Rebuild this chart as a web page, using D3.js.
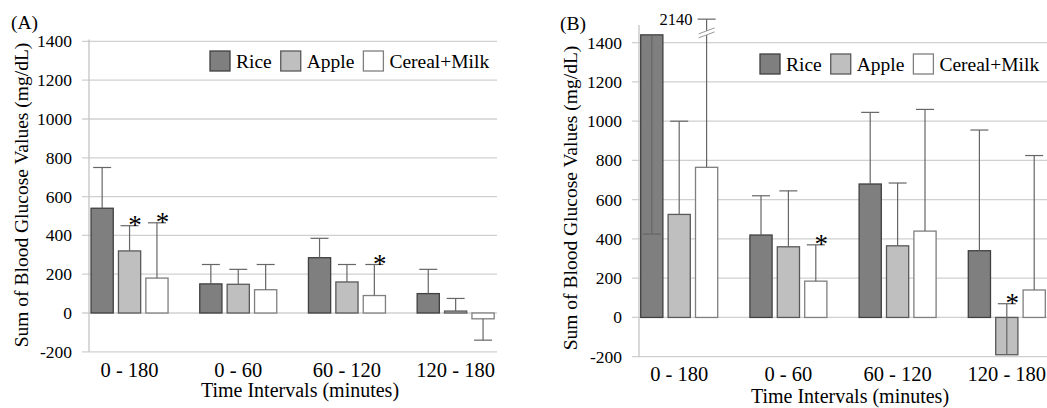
<!DOCTYPE html>
<html>
<head>
<meta charset="utf-8">
<script src="https://cdn.jsdelivr.net/npm/d3@7"></script>
<style>
    body { margin: 0; background: #fff; }
    text { font-family: "Liberation Serif", "Times New Roman", serif; fill: #000; }
</style>
</head>
<body>
<div id="chart"></div>
<script>

// data
const categories = ["0 - 180", "0 - 60", "60 - 120", "120 - 180"];
const series = ["Rice", "Apple", "Cereal+Milk"];
const yTicks = [-200, 0, 200, 400, 600, 800, 1000, 1200, 1400];

// panel A: means and error bar ends
const riceA = [540, 150, 285, 100];
const appleA = [320, 148, 160, 10];
const cerealA = [180, 120, 90, -30];
const riceErrA = [750, 250, 385, 225];
const appleErrA = [450, 225, 250, 75];
const cerealErrA = [465, 250, 250, -140];
const starsA = [["Apple", "0 - 180"], ["Cereal+Milk", "0 - 180"], ["Cereal+Milk", "60 - 120"]];

// panel B
const riceB = [1440, 420, 680, 340];
const appleB = [525, 360, 365, -190];
const cerealB = [765, 185, 440, 140];
const riceErrB = [425, 620, 1045, 955];
const appleErrB = [1000, 645, 685, 70];
const cerealErrB = [2140, 370, 1060, 825];
const starsB = [["Cereal+Milk", "0 - 60"], ["Apple", "120 - 180"]];

const fills = {"Rice": "#7f7f7f", "Apple": "#bfbfbf", "Cereal+Milk": "#ffffff"};
const strokes = {"Rice": "#404040", "Apple": "#595959", "Cereal+Milk": "#7f7f7f"};

const svg = d3.select("#chart")
    .append("svg")
    .attr("width", 1047)
    .attr("height", 408);

function drawPanel(p) {

    let g = svg.append("g");

    let x0 = d3.scaleBand()
        .domain(categories)
        .range(p.band);

    let x1 = d3.scaleBand()
        .domain(series)
        .range([-38.5, 38.5])
        .paddingInner(0.19);

    let y = d3.scaleLinear()
        .domain([-200, 1400])
        .range(p.yRange);

    //gridlines + tick marks
    g.selectAll(".grid")
        .data(yTicks)
        .join("line")
        .attr("x1", p.axisX - 7)
        .attr("x2", p.right)
        .attr("y1", d => y(d))
        .attr("y2", d => y(d))
        .attr("stroke", "#d0d0d0")
        .attr("stroke-width", 1.3);

    //y axis line
    g.append("line")
        .attr("x1", p.axisX).attr("x2", p.axisX)
        .attr("y1", y(-200)).attr("y2", y(p.axisTop))
        .attr("stroke", "#c4c4c4")
        .attr("stroke-width", 1.3);

    //tick labels
    g.selectAll(".ytick")
        .data(yTicks)
        .join("text")
        .attr("x", p.axisX - 17)
        .attr("y", d => y(d))
        .attr("dy", "0.34em")
        .attr("text-anchor", "end")
        .attr("font-size", 17.5)
        .text(d => d);

    //category labels
    g.selectAll(".xtick")
        .data(categories)
        .join("text")
        .attr("x", d => x0(d) + x0.bandwidth() / 2)
        .attr("y", p.catY)
        .attr("text-anchor", "middle")
        .attr("font-size", 20.5)
        .text(d => d);

    //x title
    g.append("text")
        .attr("x", p.titleX)
        .attr("y", p.titleY)
        .attr("text-anchor", "middle")
        .attr("font-size", 20)
        .text("Time Intervals (minutes)");

    //y title
    g.append("text")
        .attr("transform", `translate(${p.yLabelX},${p.yLabelY}) rotate(-90)`)
        .attr("text-anchor", "middle")
        .attr("font-size", 19.5)
        .text("Sum of Blood Glucose Values (mg/dL)");

    //panel letter
    g.append("text")
        .attr("x", p.letterX)
        .attr("y", p.letterY)
        .attr("font-size", 19.5)
        .text(p.letter);

    let rows = [];
    series.forEach((s, si) => {
        categories.forEach((c, ci) => {
            rows.push({s: s, c: c, v: p.values[si][ci], e: p.errs[si][ci]});
        });
    });

    let cx = d => x0(d.c) + x0.bandwidth() / 2 + x1(d.s) + x1.bandwidth() / 2;

    //bars
    g.selectAll(".bar")
        .data(rows)
        .join("rect")
        .attr("x", d => x0(d.c) + x0.bandwidth() / 2 + x1(d.s))
        .attr("y", d => Math.min(y(d.v), y(0)))
        .attr("width", x1.bandwidth())
        .attr("height", d => Math.abs(y(d.v) - y(0)))
        .attr("fill", d => fills[d.s])
        .attr("stroke", d => strokes[d.s])
        .attr("stroke-width", 1.3);

    //error bars (clipped if off the axis)
    let shown = d => Math.min(d.e, p.clip);

    g.selectAll(".err")
        .data(rows)
        .join("line")
        .attr("x1", cx).attr("x2", cx)
        .attr("y1", d => y(d.v))
        .attr("y2", d => y(shown(d)))
        .attr("stroke", "#666")
        .attr("stroke-width", 1.2);

    g.selectAll(".cap")
        .data(rows)
        .join("line")
        .attr("x1", d => cx(d) - 9).attr("x2", d => cx(d) + 9)
        .attr("y1", d => y(shown(d)))
        .attr("y2", d => y(shown(d)))
        .attr("stroke", "#666")
        .attr("stroke-width", 1.2);

    //broken error bar
    let broken = rows.filter(d => d.e > p.clip);
    broken.forEach(d => {
        let bx = cx(d), by = y(p.breakAt);
        g.append("polygon")
            .attr("points", `${bx - 8},${by + 1} ${bx + 8},${by - 5} ${bx + 8},${by - 1} ${bx - 8},${by + 5}`)
            .attr("fill", "#fff");
        [-2, 2].forEach(o => {
            g.append("line")
                .attr("x1", bx - 8).attr("y1", by + 3 + o)
                .attr("x2", bx + 8).attr("y2", by - 3 + o)
                .attr("stroke", "#999")
                .attr("stroke-width", 1);
        });
        g.append("text")
            .attr("x", bx - 14)
            .attr("y", y(p.clip))
            .attr("dy", "0.34em")
            .attr("text-anchor", "end")
            .attr("font-size", 16.5)
            .text(d.e);
    });

    //significance stars
    g.selectAll(".star")
        .data(rows.filter(d => p.stars.some(st => st[0] === d.s && st[1] === d.c)))
        .join("text")
        .attr("x", d => cx(d) + 5.5)
        .attr("y", d => y(shown(d)) + 8)
        .attr("text-anchor", "middle")
        .attr("font-size", 27)
        .text("*");

    //legend
    let lx = p.legendX;
    series.forEach(s => {
        g.append("rect")
            .attr("x", lx)
            .attr("y", p.legendY)
            .attr("width", 20)
            .attr("height", 20)
            .attr("fill", fills[s])
            .attr("stroke", strokes[s])
            .attr("stroke-width", 1.3);
        let t = g.append("text")
            .attr("x", lx + 26)
            .attr("y", p.legendY + 17)
            .attr("font-size", 19.5)
            .text(s);
        lx += 26 + t.node().getComputedTextLength() + 9;
    });
}

drawPanel({
    letter: "(A)", letterX: 11, letterY: 29,
    band: [75.2, 510], yRange: [351.8, 41.4],
    axisX: 89, axisTop: 1410, right: 497,
    values: [riceA, appleA, cerealA],
    errs: [riceErrA, appleErrA, cerealErrA],
    stars: starsA, clip: 1e9, breakAt: 0,
    catY: 377, titleX: 300, titleY: 397,
    yLabelX: 28, yLabelY: 195,
    legendX: 210, legendY: 51
});

drawPanel({
    letter: "(B)", letterX: 560, letterY: 30,
    band: [624.6, 1061.4], yRange: [356.7, 42.7],
    axisX: 639, axisTop: 1490, right: 1047,
    values: [riceB, appleB, cerealB],
    errs: [riceErrB, appleErrB, cerealErrB],
    stars: starsB, clip: 1520, breakAt: 1450,
    catY: 381, titleX: 850, titleY: 403,
    yLabelX: 577, yLabelY: 198,
    legendX: 760, legendY: 54
});

</script>
</body>
</html>
